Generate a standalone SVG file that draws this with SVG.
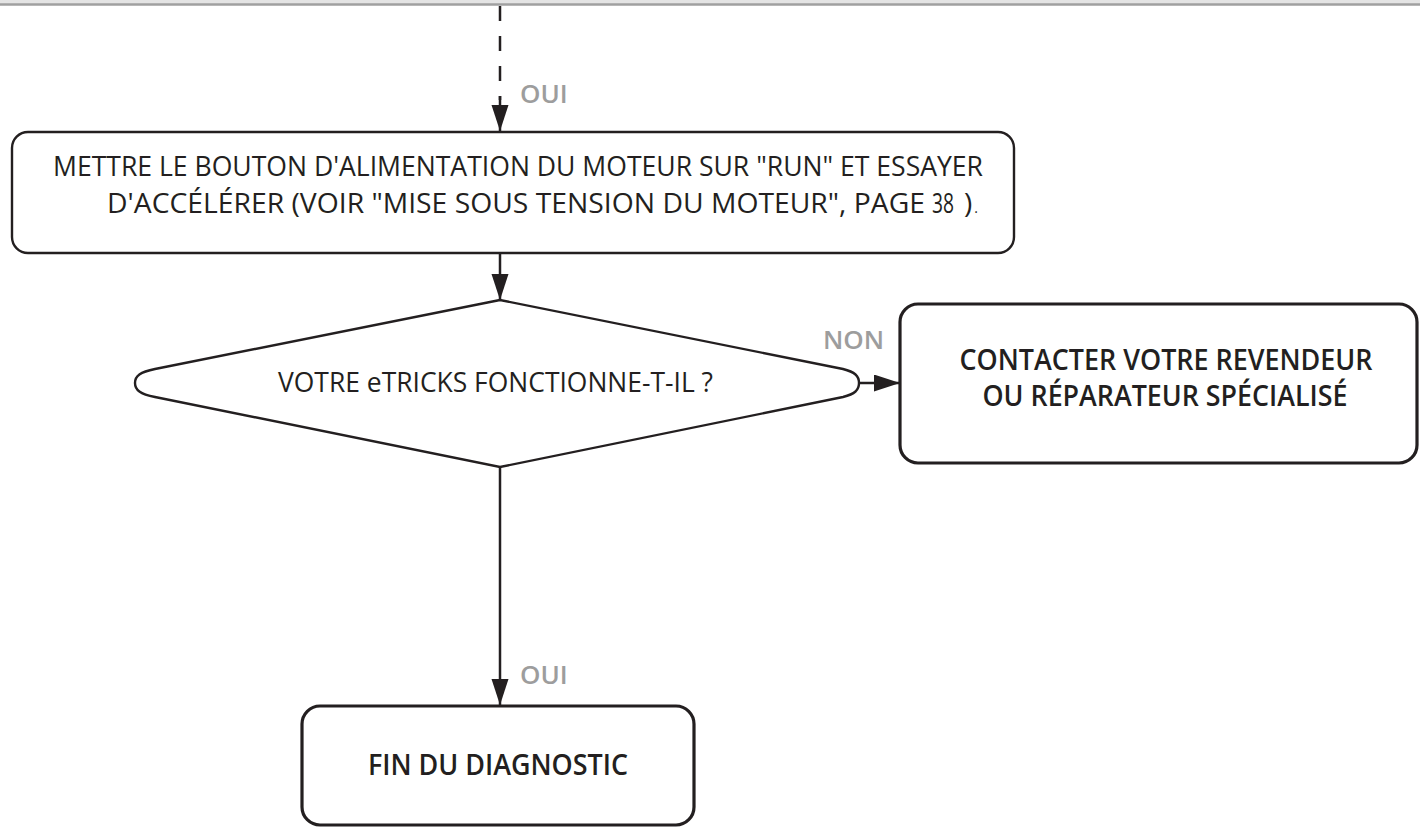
<svg xmlns="http://www.w3.org/2000/svg" width="1420" height="828" viewBox="0 0 1420 828">
<style>
.box{fill:#fff;stroke:#231f20;stroke-width:2.4}
.boxb{fill:#fff;stroke:#231f20;stroke-width:3.2}
.t{font-family:"Open Sans","Liberation Sans",sans-serif;font-size:28px;fill:#231f20}
.tb{font-family:"Open Sans","Liberation Sans",sans-serif;font-size:28px;font-weight:600;fill:#231f20;text-anchor:middle}
.lbl{font-family:"Open Sans","Liberation Sans",sans-serif;font-size:26px;font-weight:600;fill:#9d9d9d}
.ln{fill:none;stroke:#231f20;stroke-width:2.5}
</style>
<defs>
<marker id="arr" markerUnits="userSpaceOnUse" markerWidth="27" markerHeight="18" refX="26" refY="8.5" orient="auto">
<path d="M0,0 L26,8.5 L0,17 Z" fill="#231f20"/>
</marker>
</defs>
<rect x="0" y="0" width="1420" height="4" fill="#e4e4e4"/>
<line x1="0" y1="4.5" x2="1420" y2="4.5" stroke="#a0a0a0" stroke-width="2.5"/>
<g id="connectors">
<line class="ln" x1="500" y1="6" x2="500" y2="100" stroke-dasharray="15,15"/>
<line class="ln" x1="500" y1="96" x2="500" y2="131" marker-end="url(#arr)"/>
<line class="ln" x1="500" y1="253" x2="500" y2="300" marker-end="url(#arr)"/>
<line class="ln" x1="859" y1="383" x2="900" y2="383" marker-end="url(#arr)"/>
<line class="ln" x1="500" y1="467" x2="500" y2="705" marker-end="url(#arr)"/>
<text class="lbl" x="520" y="103">OUI</text>
<text class="lbl" x="823" y="349">NON</text>
<text class="lbl" x="520" y="684">OUI</text>
</g>
<g id="node-action">
<rect class="box" x="12" y="132" width="1002" height="121" rx="16"/>
<text class="t" x="53" y="176" textLength="930" lengthAdjust="spacingAndGlyphs">METTRE LE BOUTON D'ALIMENTATION DU MOTEUR SUR "RUN" ET ESSAYER</text>
<text class="t" x="107" y="213" textLength="818" lengthAdjust="spacingAndGlyphs">D'ACCÉLÉRER (VOIR "MISE SOUS TENSION DU MOTEUR", PAGE</text>
<text class="t" x="932" y="213" font-size="22" textLength="22" lengthAdjust="spacingAndGlyphs">38</text>
<text class="t" x="964" y="213">)<tspan font-size="14" dx="2">.</tspan></text>
</g>
<g id="node-decision">
<path class="box" stroke-width="2.6" d="M500,300 L155,369 C140,372 135,376 135,383 C135,390 140,394 155,397 L500,467 L843,397 C855,394 859,390 859,383 C859,376 855,372 843,369 Z"/>
<text class="t" x="278" y="392" textLength="435" lengthAdjust="spacingAndGlyphs">VOTRE eTRICKS FONCTIONNE-T-IL ?</text>
</g>
<g id="node-contact">
<rect class="boxb" x="900" y="304" width="517" height="159" rx="18"/>
<text class="tb" x="1166" y="370" textLength="413" lengthAdjust="spacingAndGlyphs">CONTACTER VOTRE REVENDEUR</text>
<text class="tb" x="1165" y="406" textLength="365" lengthAdjust="spacingAndGlyphs">OU RÉPARATEUR SPÉCIALISÉ</text>
</g>
<g id="node-end">
<rect class="boxb" x="302" y="706" width="392" height="119" rx="18"/>
<text class="tb" x="498" y="775" textLength="260" lengthAdjust="spacingAndGlyphs">FIN DU DIAGNOSTIC</text>
</g>
</svg>
